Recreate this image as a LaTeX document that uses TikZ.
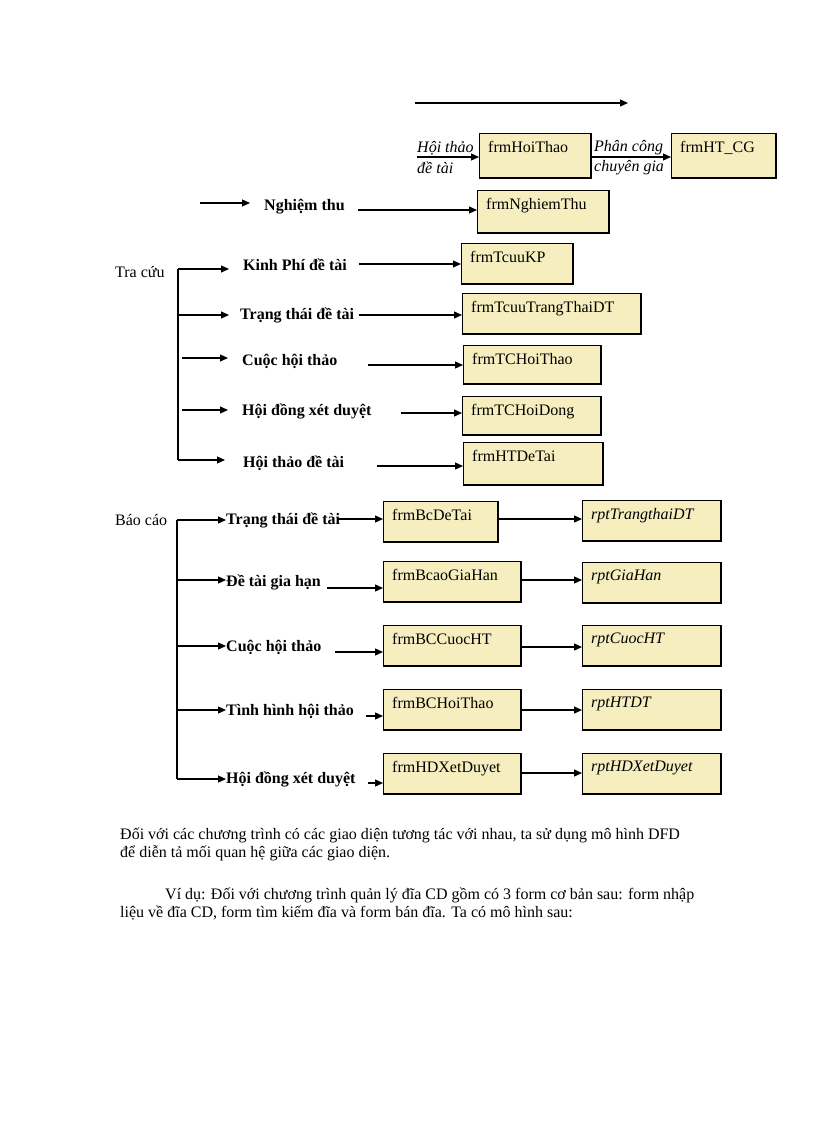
\documentclass[tikz,border=0pt]{standalone}
\usepackage{fontspec}
\setmainfont{Liberation Serif}
\usetikzlibrary{arrows.meta,calc}
\definecolor{boxfill}{RGB}{246,238,190}
\tikzset{
  arr/.style={line width=1.2pt,-{Triangle[length=8pt,width=7pt]}},
  boxst/.style={draw,line width=0.8pt,fill=boxfill,anchor=north west,inner sep=0pt},
  lbl/.style={anchor=north west,inner sep=0pt,font=\fontsize{16}{18}\selectfont},
  bl/.style={anchor=west,inner sep=0pt,font=\fontsize{16}{18}\selectfont\bfseries},
  it/.style={anchor=west,inner sep=0pt,font=\fontsize{16}{18}\selectfont\itshape},
  tx/.style={anchor=west,inner sep=0pt,font=\fontsize{16}{18}\selectfont},
  para/.style={anchor=base west,inner sep=0pt,font=\fontsize{16}{18}\selectfont}
}
\newcommand{\bx}[6]{%
  \node[boxst,minimum width=#4pt-#2pt,minimum height=#5pt-#3pt] (#1) at (#2,#3) {};
  \draw[line width=2.2pt] (#1.north east) -- (#1.south east) -- (#1.south west);
  \node[lbl] (#1t) at ($(#1.north west)+(9,8)$) {#6};}
\begin{document}
\begin{tikzpicture}[x=1pt,y=-1pt]
\useasboundingbox (0,0) rectangle (816,1123);
% boxes
\bx{hoithao}{479}{133}{590}{177}{frmHoiThao}
\bx{htcg}{671}{133}{775}{177}{frmHT\_CG}
\bx{nt}{477}{190}{608}{232}{frmNghiemThu}
\bx{kp}{461}{243}{572}{283}{frmTcuuKP}
\bx{ttdt}{462}{293}{640}{333}{frmTcuuTrangThaiDT}
\bx{tcht}{463}{345}{600}{383}{frmTCHoiThao}
\bx{tchd}{462}{396}{600}{434}{frmTCHoiDong}
\bx{htdt}{463}{442}{602}{484}{frmHTDeTai}
\bx{bcdt}{383}{501}{497}{541}{frmBcDeTai}
\bx{rtt}{582}{500}{720}{540}{\itshape rptTrangthaiDT}
\bx{bcgh}{383}{561}{520}{601}{frmBcaoGiaHan}
\bx{rgh}{582}{562}{720}{602}{\itshape rptGiaHan}
\bx{bcch}{383}{625}{520}{665}{frmBCCuocHT}
\bx{rch}{582}{625}{720}{665}{\itshape rptCuocHT}
\bx{bcht}{383}{689}{520}{729}{frmBCHoiThao}
\bx{rht}{582}{689}{720}{729}{\itshape rptHTDT}
\bx{bchd}{383}{753}{520}{793}{frmHDXetDuyet}
\bx{rhd}{582}{753}{720}{793}{\itshape rptHDXetDuyet}
% top
\coordinate (t1) at (415,103); \coordinate (t2) at (628,103);
\draw[arr] (t1) -- (t2);
\node[it] (l1) at (417,148) {Hội thảo};
\node[it] (l2) at (417,168) {đề tài};
\coordinate (a1) at (417,157); \draw[arr] (a1) -- (a1 -| hoithao.west);
\node[it] (l3) at (594,148) {Phân công};
\node[it] (l4) at (594,168) {chuyên gia};
\coordinate (a2) at (590,157); \draw[arr] (a2) -- (a2 -| htcg.west);
\coordinate (n1) at (200,203); \coordinate (n2) at (250,203);
\draw[arr] (n1) -- (n2);
\node[bl] (nl) at (264,207) {Nghiệm thu};
\coordinate (n3) at (358,210); \draw[arr] (n3) -- (n3 -| nt.west);
% Tra cuu
\node[tx] (tc) at (115,272) {Tra cứu};
\coordinate (v1) at (178,269); \coordinate (v2) at (178,460);
\draw[line width=1.2pt] (v1) -- (v2);
\coordinate (b1) at (178,269); \coordinate (b2) at (178,315); \coordinate (b3) at (182,358); \coordinate (b4) at (182,410); \coordinate (b5) at (178,460);
\draw[arr] (b1) -- ++(51,0); \draw[arr] (b2) -- ++(51,0); \draw[arr] (b3) -- ++(46,0); \draw[arr] (b4) -- ++(46,0); \draw[arr] (b5) -- ++(47,0);
\node[bl] (k1) at (243,265) {Kinh Phí đề tài};
\node[bl] (k2) at (240,315) {Trạng thái đề tài};
\node[bl] (k3) at (242,361) {Cuộc hội thảo};
\node[bl] (k4) at (242,411) {Hội đồng xét duyệt};
\node[bl] (k5) at (243,463) {Hội thảo đề tài};
\coordinate (c1) at (359,264); \draw[arr] (c1) -- (c1 -| kp.west);
\coordinate (c2) at (359,315); \draw[arr] (c2) -- (c2 -| ttdt.west);
\coordinate (c3) at (368,365); \draw[arr] (c3) -- (c3 -| tcht.west);
\coordinate (c4) at (401,413); \draw[arr] (c4) -- (c4 -| tchd.west);
\coordinate (c5) at (377,466); \draw[arr] (c5) -- (c5 -| htdt.west);
% Bao cao
\node[tx] (bc) at (115,520) {Báo cáo};
\coordinate (w1) at (177,520); \coordinate (w2) at (177,779);
\draw[line width=1.2pt] (w1) -- (w2);
\foreach \yy/\nm in {520/d1,580/d2,646/d3,710/d4,779/d5}{
  \coordinate (\nm) at (177,\yy); \draw[arr] (\nm) -- ++(49,0);}
\node[bl] (m1) at (226,520) {Trạng thái đề tài};
\node[bl] (m2) at (226,582) {Đề tài gia hạn};
\node[bl] (m3) at (226,647) {Cuộc hội thảo};
\node[bl] (m4) at (226,711) {Tình hình hội thảo};
\node[bl] (m5) at (226,779) {Hội đồng xét duyệt};
\coordinate (e1) at (338,519); \draw[arr] (e1) -- (e1 -| bcdt.west);
\coordinate (e2) at (327,588); \draw[arr] (e2) -- (e2 -| bcgh.west);
\coordinate (e3) at (335,652); \draw[arr] (e3) -- (e3 -| bcch.west);
\coordinate (e4) at (366,716); \draw[arr] (e4) -- (e4 -| bcht.west);
\coordinate (e5) at (368,783); \draw[arr] (e5) -- (e5 -| bchd.west);
\coordinate (f1) at (bcdt.east |- 0,519); \draw[arr] (f1) -- (f1 -| rtt.west);
\coordinate (f2) at (bcgh.east |- 0,580); \draw[arr] (f2) -- (f2 -| rgh.west);
\coordinate (f3) at (bcch.east |- 0,647); \draw[arr] (f3) -- (f3 -| rch.west);
\coordinate (f4) at (bcht.east |- 0,710); \draw[arr] (f4) -- (f4 -| rht.west);
\coordinate (f5) at (bchd.east |- 0,773); \draw[arr] (f5) -- (f5 -| rhd.west);
% paragraphs
\node[para] (p1) at (120,839) {Đối với các chương trình có các giao diện tương tác với nhau, ta sử dụng mô hình DFD};
\node[para] (p2) at (120,857) {để diễn tả mối quan hệ giữa các giao diện.};
\node[para] (p3) at (165,899) {Ví dụ: Đối với chương trình quản lý đĩa CD gồm có 3 form cơ bản sau: form nhập};
\node[para] (p4) at (120,917) {liệu về đĩa CD, form tìm kiếm đĩa và form bán đĩa. Ta có mô hình sau:};
\end{tikzpicture}
\end{document}
